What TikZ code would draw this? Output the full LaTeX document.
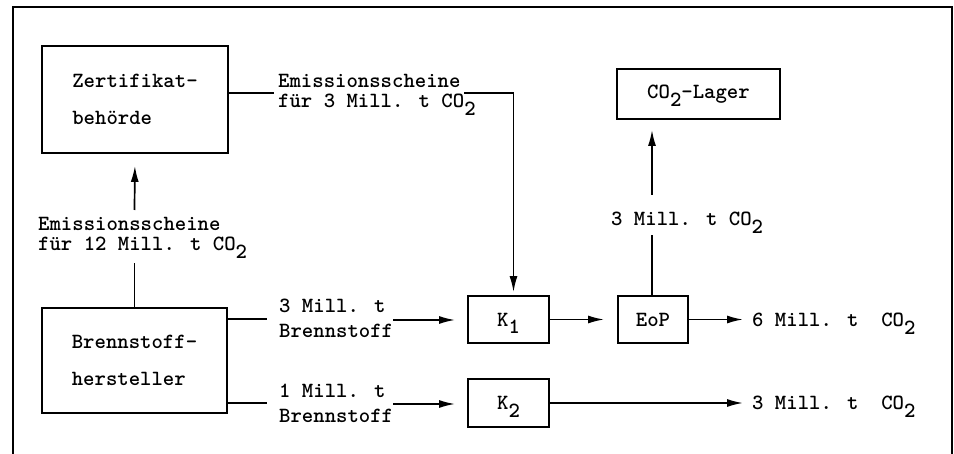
\documentclass[tikz,border=0pt]{standalone}
\usetikzlibrary{arrows.meta}
\newcommand\lowsub[1]{\raisebox{-0.36em}[0pt][0pt]{#1}}
\begin{document}
\begin{tikzpicture}[x=1pt,y=-1pt,
  every node/.style={font=\ttfamily\bfseries\fontsize{21.7}{36.5}\selectfont},
  boxnode/.style={draw,line width=1.8pt,inner sep=0pt,align=left},
  lbl/.style={anchor=base west,inner sep=0pt},
  conn/.style={line width=1.7pt},
  arr/.style={line width=1.7pt,-{Latex[length=16pt,width=8pt]}}]
\useasboundingbox (0,0) rectangle (954,454);
% frame
\draw[line width=2pt] (13,454) -- (13,7) -- (952,7) -- (952,454);

% boxes
\node[boxnode,minimum width=186pt,minimum height=107pt] (Z) at (135,99.5) {Zertifikat-\\behörde};
\node[boxnode,minimum width=185pt,minimum height=105pt] (B) at (134.5,360.5) {Brennstoff-\\hersteller};
\node[boxnode,minimum width=81pt,minimum height=47pt] (K1) at (508.5,319.5) {K\lowsub{1}};
\node[boxnode,minimum width=81pt,minimum height=48pt] (K2) at (508.5,403) {K\lowsub{2}};
\node[boxnode,minimum width=70pt,minimum height=47pt] (EoP) at (653,319.5) {EoP};
\node[boxnode,minimum width=163pt,minimum height=50pt] (L) at (698.5,94) {CO\lowsub{2}-Lager};

% labels
\node[lbl] (e1a) at (278,88) {Emissionsscheine};
\node[lbl] (e1b) at (278,108) {für 3 Mill. t CO\lowsub{2}};
\node[lbl] (e2a) at (38,231) {Emissionsscheine};
\node[lbl] (e2b) at (38,251) {für 12 Mill. t CO\lowsub{2}};
\node[lbl] (b1a) at (279,313) {3 Mill. t};
\node[lbl] (b1b) at (279,338) {Brennstoff};
\node[lbl] (b2a) at (279,398) {1 Mill. t};
\node[lbl] (b2b) at (279,423) {Brennstoff};
\node[lbl] (lg) at (611,226) {3 Mill. t CO\lowsub{2}};
\node[lbl] (o1) at (752,327) {6 Mill. t~~CO\lowsub{2}};
\node[lbl] (o2) at (752,409.5) {3 Mill. t~~CO\lowsub{2}};

% coordinates for free line ends
\coordinate (e1l) at (274,93);
\coordinate (e1r) at (464,93);
\coordinate (k1c) at (513.5,93);
\coordinate (a2s) at (134.5,210);
\coordinate (a2e) at (134.5,263);
\coordinate (b1l) at (267,319);
\coordinate (b1r) at (393,320);
\coordinate (b2l) at (267,403);
\coordinate (b2r) at (393,404);
\coordinate (v1) at (652,235);
\coordinate (v2) at (652,195);

% connectors
\draw[conn] (Z.east |- e1l) -- (e1l);
\draw[arr,shorten >=3pt] (e1r) -- (k1c) -- (k1c |- K1.north);
\draw[conn] (B.north) -- (a2e);
\draw[arr,shorten >=12pt] (a2s) -- (Z.south);
\draw[conn] (B.east |- b1l) -- (b1l);
\draw[arr,shorten >=12pt] (b1r) -- (K1.west |- b1r);
\draw[conn] (B.east |- b2l) -- (b2l);
\draw[arr,shorten >=12pt] (b2r) -- (K2.west |- b2r);
\draw[arr,shorten >=13pt] (K1.east) -- (EoP.west);
\draw[arr,shorten >=9pt] (EoP.east) -- (EoP.east -| o1.west);
\draw[arr,shorten >=9pt] (K2.east) -- (K2.east -| o2.west);
\draw[conn] (EoP.north -| v1) -- (v1);
\draw[arr,shorten >=10pt] (v2) -- (v2 |- L.south);
\end{tikzpicture}
\end{document}
